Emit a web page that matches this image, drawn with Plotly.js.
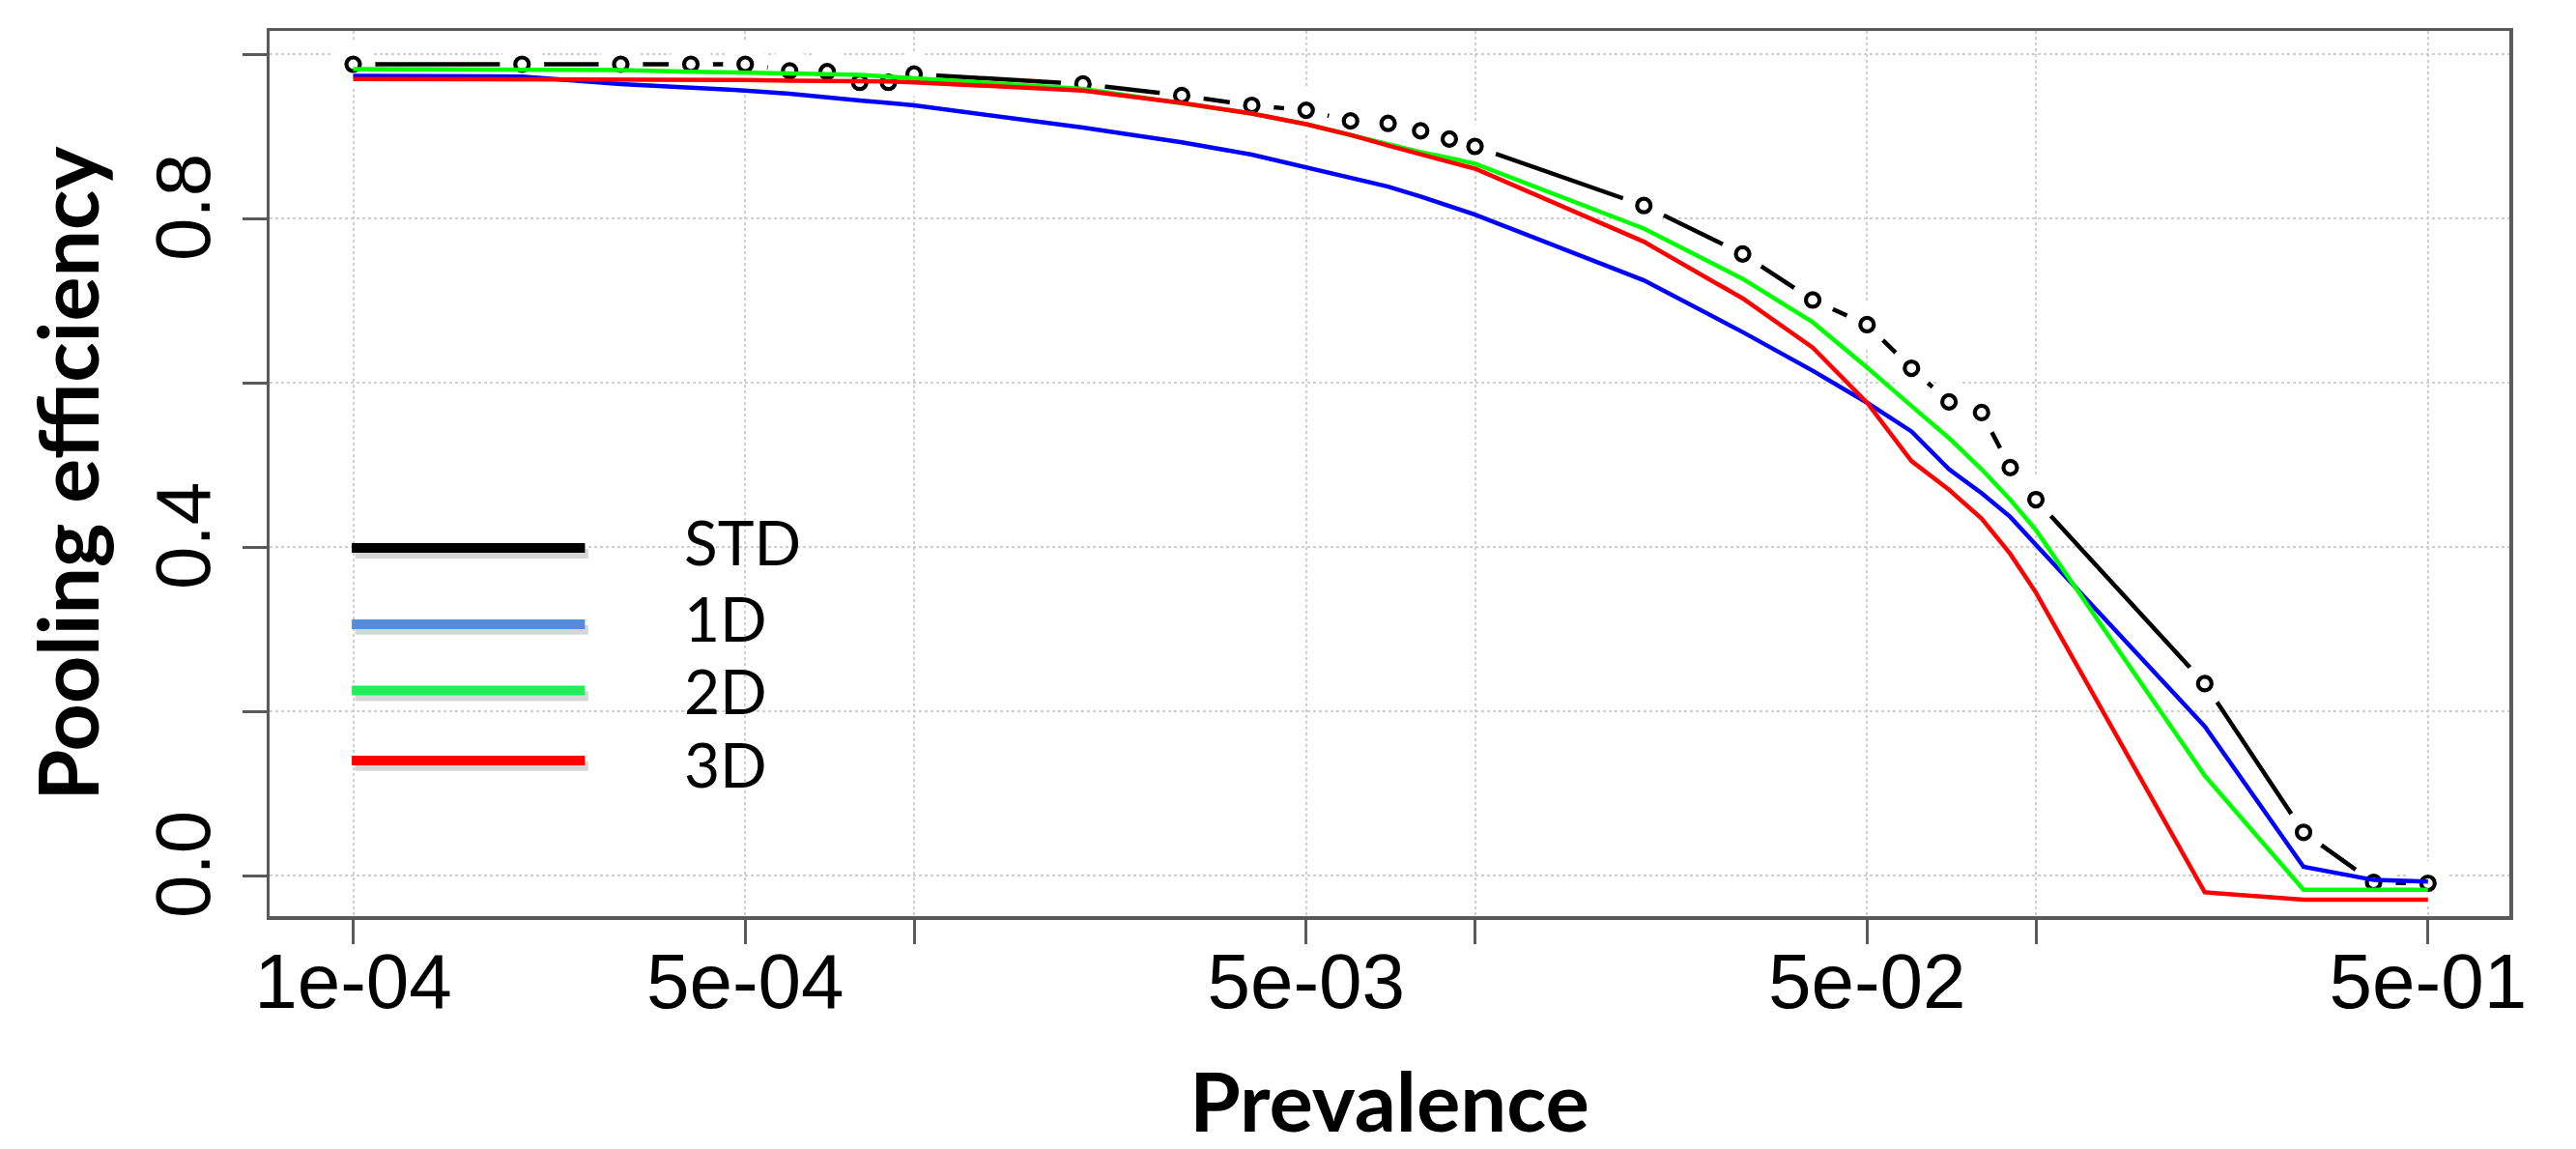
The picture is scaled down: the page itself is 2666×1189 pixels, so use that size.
<!DOCTYPE html>
<html>
<head>
<meta charset="utf-8">
<script src="https://cdn.plot.ly/plotly-3.0.1.min.js"></script>
<style>
  html, body { margin: 0; padding: 0; background: #ffffff; }
  #chart { width: 2666px; height: 1189px; }
</style>
</head>
<body>
<div id="chart"></div>
<script>
// ---- data ----
const prevalence = [
  0.0001, 0.0002, 0.0003, 0.0004, 0.0005, 0.0006, 0.0007, 0.0008, 0.0009,
  0.001, 0.002, 0.003, 0.004, 0.005, 0.006, 0.007, 0.008, 0.009,
  0.01, 0.02, 0.03, 0.04, 0.05, 0.06, 0.07, 0.08, 0.09,
  0.1, 0.2, 0.3, 0.4, 0.5
];
const effSTD = [
  0.988, 0.988, 0.988, 0.988, 0.988, 0.980, 0.979, 0.966, 0.966,
  0.976, 0.964, 0.950, 0.938, 0.932, 0.919, 0.916, 0.907, 0.897,
  0.888, 0.816, 0.757, 0.701, 0.671, 0.618, 0.577, 0.564, 0.497,
  0.458, 0.234, 0.053, -0.008, -0.009
];
const eff1D = [
  0.974, 0.973, 0.964, 0.960, 0.956, 0.952, 0.947, 0.944, 0.941,
  0.938, 0.911, 0.893, 0.878, 0.862, 0.850, 0.839, 0.827, 0.815,
  0.805, 0.725, 0.662, 0.615, 0.576, 0.541, 0.495, 0.466, 0.437,
  0.403, 0.182, 0.011, -0.005, -0.007
];
const eff2D = [
  0.982, 0.982, 0.981, 0.979, 0.978, 0.978, 0.976, 0.975, 0.973,
  0.971, 0.958, 0.941, 0.928, 0.915, 0.902, 0.890, 0.881, 0.874,
  0.867, 0.788, 0.727, 0.674, 0.619, 0.572, 0.533, 0.495, 0.458,
  0.421, 0.122, -0.017, -0.017, -0.017
];
const eff3D = [
  0.970, 0.970, 0.970, 0.969, 0.969, 0.968, 0.968, 0.967, 0.967,
  0.966, 0.956, 0.941, 0.928, 0.915, 0.902, 0.889, 0.878, 0.869,
  0.861, 0.772, 0.703, 0.643, 0.576, 0.505, 0.470, 0.435, 0.392,
  0.345, -0.020, -0.029, -0.029, -0.029
];
const seriesNames = ['STD', '1D', '2D', '3D'];
const xTickVals = [0.0001, 0.0005, 0.001, 0.005, 0.01, 0.05, 0.1, 0.5];
const xTickText = ['1e-04', '5e-04', '', '5e-03', '', '5e-02', '', '5e-01'];
const yTickVals = [0, 0.2, 0.4, 0.6, 0.8, 1.0];
const yTickText = ['0.0', '', '0.4', '', '0.8', ''];

// ---- styles ----
const lineColors = { '1D': '#0000ff', '2D': '#00ff00', '3D': '#ff0000' };
const legendColors = ['#000000', '#558ed5', '#1ff05a', '#ff0000'];
const frameColor = '#5a5a5a';
const tickFont = { family: 'Liberation Sans, Arial, sans-serif', size: 80, color: '#000000' };
const xTitleFont = { family: 'Lato, sans-serif', size: 85, color: '#000000', weight: 700 };
const yTitleFont = { family: 'Lato, sans-serif', size: 86, color: '#000000', weight: 700 };

const traces = [
  { x: prevalence, y: effSTD, mode: 'lines', name: 'STD', showlegend: false,
    line: { color: '#000000', width: 4.5 }, hoverinfo: 'skip' },
  { x: prevalence, y: effSTD, mode: 'markers', name: 'STD gap', showlegend: false,
    marker: { symbol: 'circle', size: 46, color: '#ffffff', line: { width: 0 } }, hoverinfo: 'skip' },
  { x: prevalence, y: effSTD, mode: 'markers', name: 'STD', showlegend: false,
    marker: { symbol: 'circle-open', size: 14, color: '#000000', line: { width: 4.2, color: '#000000' } } },
  { x: prevalence, y: eff1D, mode: 'lines', name: '1D', showlegend: false,
    line: { color: lineColors['1D'], width: 4.5 } },
  { x: prevalence, y: eff2D, mode: 'lines', name: '2D', showlegend: false,
    line: { color: lineColors['2D'], width: 4.5 } },
  { x: prevalence, y: eff3D, mode: 'lines', name: '3D', showlegend: false,
    line: { color: lineColors['3D'], width: 4.5 } }
];

// ---- hand-drawn legend (long line keys with soft shadow) ----
const legendLineX = [0.0367, 0.1408];
const legendLineY = [0.416, 0.3298, 0.2549, 0.1759];
const legendTextY = [0.4225, 0.3371, 0.2552, 0.1723];
const legendTextX = 0.184;
const shapes = [];
const annotations = [];
seriesNames.forEach((name, i) => {
  shapes.push({ type: 'line', xref: 'paper', yref: 'paper',
    x0: legendLineX[0] + 0.0015, x1: legendLineX[1] + 0.0015,
    y0: legendLineY[i] - 0.0065, y1: legendLineY[i] - 0.0065,
    line: { color: 'rgba(0,0,0,0.16)', width: 10 } });
  shapes.push({ type: 'line', xref: 'paper', yref: 'paper',
    x0: legendLineX[0], x1: legendLineX[1],
    y0: legendLineY[i], y1: legendLineY[i],
    line: { color: legendColors[i], width: 10 } });
  annotations.push({ xref: 'paper', yref: 'paper', x: legendTextX, y: legendTextY[i],
    xanchor: 'left', yanchor: 'middle', showarrow: false, text: name,
    font: { family: 'Lato, sans-serif', size: 64, color: '#000000' } });
});

const axisCommon = {
  showline: true, linecolor: frameColor, linewidth: 3.5, mirror: true,
  ticks: 'outside', ticklen: 25, tickwidth: 3, tickcolor: frameColor,
  showgrid: true, gridcolor: '#cfcfcf', gridwidth: 2, griddash: 'dot',
  zeroline: false, tickfont: tickFont
};

const layout = {
  width: 2666, height: 1189,
  margin: { l: 279, r: 69, t: 32, b: 241, pad: 0 },
  paper_bgcolor: '#ffffff', plot_bgcolor: '#ffffff',
  showlegend: false,
  xaxis: Object.assign({}, axisCommon, {
    type: 'log', range: [-4.149, -0.156],
    tickmode: 'array', tickvals: xTickVals, ticktext: xTickText,
    ticklabelstandoff: -30,
    title: { text: 'Prevalence', font: xTitleFont, standoff: 95 }
  }),
  yaxis: Object.assign({}, axisCommon, {
    range: [-0.049, 1.0286],
    tickmode: 'array', tickvals: yTickVals, ticktext: yTickText,
    tickangle: -90, ticklabelstandoff: 2,
    title: { text: 'Pooling efficiency', font: yTitleFont, standoff: 14 }
  }),
  shapes: shapes,
  annotations: annotations
};

Plotly.newPlot('chart', traces, layout, { staticPlot: true, displayModeBar: false });
</script>
</body>
</html>
